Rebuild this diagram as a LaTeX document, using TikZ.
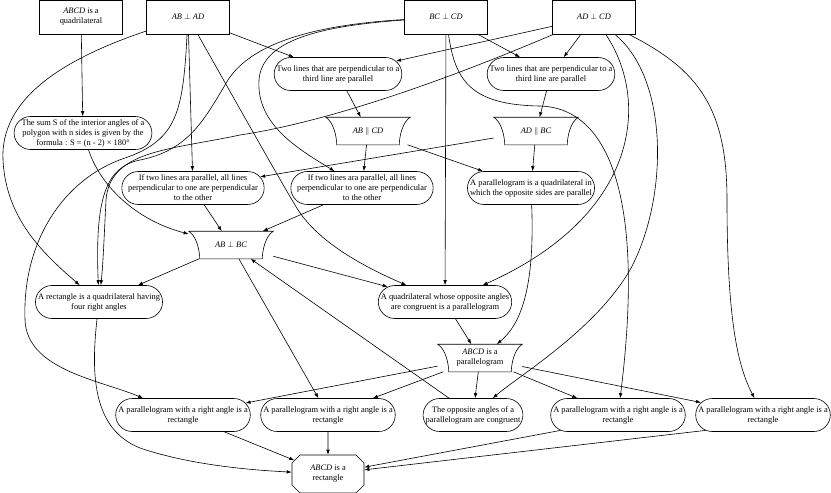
\documentclass[tikz,border=0pt]{standalone}
\usepackage{fontspec}
\setmainfont{Liberation Serif}
\usepackage{amsmath,amssymb}
\usepackage{tikz}
\usetikzlibrary{shapes.misc,arrows.meta}

\tikzset{
  givenbox/.style={rectangle, draw, minimum width=83pt, minimum height=34pt, inner sep=1pt, align=center},
  rulebox/.style={rounded rectangle, draw, minimum height=33pt, inner xsep=0pt, inner ysep=1pt, align=center},
  factbox/.style={rectangle, minimum width=84pt, minimum height=27pt, inner sep=1pt, align=center,
    append after command={\pgfextra{\pgfinterruptpath
      \draw (\tikzlastnode.north west) -- (\tikzlastnode.north east)
        .. controls ([xshift=-8pt,yshift=-5pt]\tikzlastnode.north east)
        and ([xshift=-11pt,yshift=8pt]\tikzlastnode.south east)
        .. ([xshift=-11pt]\tikzlastnode.south east)
        -- ([xshift=11pt]\tikzlastnode.south west)
        .. controls ([xshift=11pt,yshift=8pt]\tikzlastnode.south west)
        and ([xshift=8pt,yshift=-5pt]\tikzlastnode.north west)
        .. (\tikzlastnode.north west) -- cycle;
      \endpgfinterruptpath}}},
  goalbox/.style={chamfered rectangle, chamfered rectangle xsep=4pt, chamfered rectangle ysep=4pt, draw, minimum width=72pt, minimum height=38pt, inner sep=1pt, align=center}
}

\begin{document}
\begin{tikzpicture}[x=1pt, y=-1pt, line width=0.6pt, >={Latex[length=5pt,width=3.6pt]}, font=\fontsize{8.4}{10}\selectfont]
        \useasboundingbox (0,0) rectangle (831,493);

        % Define nodes
        \node[givenbox] (quad) at (81,17) {\textit{ABCD} is a\\quadrilateral};
        \node[givenbox] (abad) at (188,17) {\textit{AB} $\perp$ \textit{AD}};
        \node[givenbox] (bccd) at (446,17) {\textit{BC} $\perp$ \textit{CD}};
        \node[givenbox] (adcd) at (594,17) {\textit{AD} $\perp$ \textit{CD}};

        \node[rulebox] (perpa) at (338,74) {Two lines that are perpendicular to a\\third line are parallel};
        \node[rulebox] (perpb) at (551,74) {Two lines that are perpendicular to a\\third line are parallel};
        \node[rulebox] (sum) at (83,133) {The sum S of the interior angles of a\\polygon with n sides is given by the\\formula : S = (n - 2) × 180°};

        \node[factbox] (abpar) at (368,131) {\textit{AB} $\parallel$ \textit{CD}};
        \node[factbox] (adpar) at (536,131) {\textit{AD} $\parallel$ \textit{BC}};

        \node[rulebox] (transa) at (193,188) {If two lines ara parallel, all lines\\perpendicular to one are perpendicular\\to the other};
        \node[rulebox] (transb) at (362,188) {If two lines ara parallel, all lines\\perpendicular to one are perpendicular\\to the other};
        \node[rulebox] (pgdef) at (531,188) {A parallelogram is a quadrilateral in\\which the opposite sides are parallel};

        \node[factbox] (abbc) at (231,245) {\textit{AB} $\perp$ \textit{BC}};

        \node[rulebox] (rectdef) at (99,302) {A rectangle is a quadrilateral having\\four right angles};
        \node[rulebox] (oppdef) at (445,302) {A quadrilateral whose opposite angles\\are congruent is a parallelogram};

        \node[factbox] (pgram) at (480,358) {\textit{ABCD} is a\\parallelogram};

        \node[rulebox] (ra1) at (183,415) {A parallelogram with a right angle is a\\rectangle};
        \node[rulebox] (ra2) at (328,415) {A parallelogram with a right angle is a\\rectangle};
        \node[rulebox] (oppthm) at (473,415) {The opposite angles of a\\parallelogram are congruent};
        \node[rulebox] (ra3) at (618,415) {A parallelogram with a right angle is a\\rectangle};
        \node[rulebox] (ra4) at (763,415) {A parallelogram with a right angle is a\\rectangle};

        \node[goalbox] (rect) at (328,474) {\textit{ABCD} is a\\rectangle};

        % Connect givens to the parallel rules
        \draw[->] (quad) -- (sum);
        \draw[->] (abad) -- (perpa);
        \draw[->] (adcd) -- (perpa);
        \draw[->] (bccd) -- (perpb);
        \draw[->] (adcd) -- (perpb);
        \draw[->] (perpa) -- (abpar);
        \draw[->] (perpb) -- (adpar);

        % Connect parallels to AB perp BC
        \draw[->] (abad) -- (transa);
        \draw[->] (adpar) -- (transa);
        \draw[->] (abpar) -- (transb);
        \draw[->] (bccd) .. controls (320,26) and (262,40) .. (259,80) .. controls (256,125) and (300,150) .. (transb);
        \draw[->] (sum) .. controls (100,185) and (135,220) .. (abbc);
        \draw[->] (transa) -- (abbc);
        \draw[->] (transb) -- (abbc);
        \draw[->] (oppthm) -- (abbc);

        % Connect to ABCD is a parallelogram
        \draw[->] (abpar) -- (pgdef);
        \draw[->] (adpar) -- (pgdef);
        \draw[->] (pgdef) .. controls (535,290) and (520,325) .. (pgram);
        \draw[->] (oppdef) -- (pgram);
        \draw[->] (abbc) -- (oppdef);
        \draw[->] (abad) .. controls (245,118) and (280,180) .. (295,205) .. controls (315,240) and (360,265) .. (oppdef);
        \draw[->] (bccd) -- (oppdef);
        \draw[->] (adcd) .. controls (650,100) and (640,215) .. (oppdef);

        % Connect right angles to the rectangle rule
        \draw[->] (abad) .. controls (60,60) and (0,100) .. (3,160) .. controls (6,220) and (45,255) .. (rectdef);
        \draw[->] (bccd) .. controls (330,24) and (255,38) .. (228,80) .. controls (205,118) and (190,150) .. (140,160) .. controls (105,167) and (95,200) .. (rectdef);
        \draw[->] (adcd) .. controls (470,70) and (340,120) .. (240,135) .. controls (170,150) and (110,150) .. (106,200) .. controls (104,240) and (103,265) .. (rectdef);
        \draw[->] (abbc) -- (rectdef);

        % Connect parallelogram to the lower rules
        \draw[->] (pgram) -- (ra1);
        \draw[->] (pgram) -- (ra2);
        \draw[->] (pgram) -- (oppthm);
        \draw[->] (pgram) -- (ra3);
        \draw[->] (pgram) -- (ra4);
        \draw[->] (abad) .. controls (183,110) and (178,140) .. (125,158) .. controls (65,178) and (22,240) .. (25,320) .. controls (27,370) and (100,380) .. (ra1);
        \draw[->] (abbc) -- (ra2);
        \draw[->] (adcd) .. controls (670,80) and (668,200) .. (630,270) .. controls (595,330) and (520,375) .. (oppthm);
        \draw[->] (bccd) .. controls (455,80) and (470,105) .. (540,106) .. controls (610,108) and (645,200) .. (ra3);
        \draw[->] (adcd) .. controls (700,70) and (727,110) .. (727,200) .. controls (727,330) and (740,370) .. (ra4);

        % Connect to ABCD is a rectangle
        \draw[->] (rectdef) .. controls (90,380) and (95,430) .. (140,448) .. controls (190,465) and (250,470) .. (rect);
        \draw[->] (ra1) -- (rect);
        \draw[->] (ra2) -- (rect);
        \draw[->] (ra3.-165) -- (rect);
        \draw[->] (ra4.-165) -- (rect);
    \end{tikzpicture}
\end{document}
